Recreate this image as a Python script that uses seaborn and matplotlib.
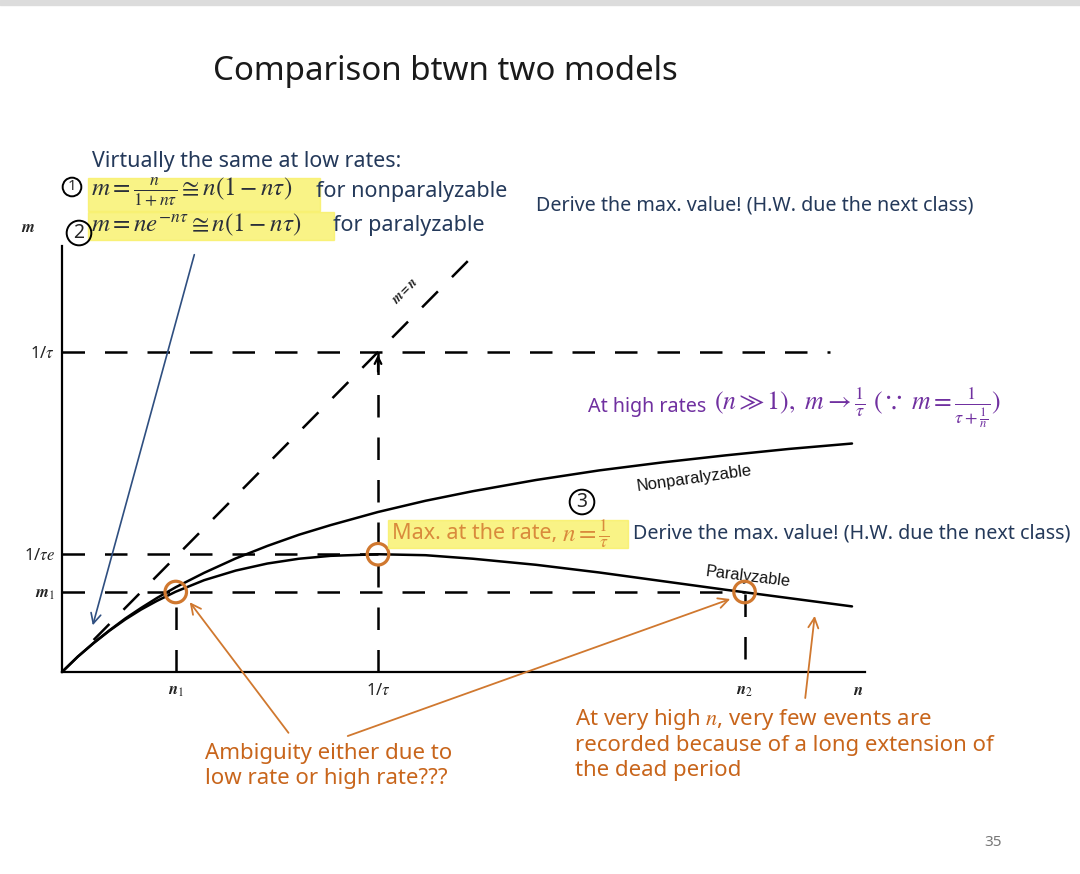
import matplotlib
matplotlib.use("Agg")
import matplotlib.pyplot as plt
import pandas as pd
import seaborn as sns
from matplotlib.patches import Rectangle

n_vals = [0, 0.05, 0.1, 0.15, 0.2, 0.25, 0.3, 0.36, 0.45, 0.55, 0.65, 0.75, 0.85, 1.0,
          1.15, 1.3, 1.5, 1.7, 1.9, 2.1, 2.3, 2.5]
m_nonpar = [0, 0.048, 0.091, 0.13, 0.167, 0.2, 0.231, 0.265, 0.31, 0.355, 0.394, 0.429, 0.459, 0.5,
            0.535, 0.565, 0.6, 0.63, 0.655, 0.677, 0.697, 0.714]
m_par = [0, 0.048, 0.09, 0.129, 0.164, 0.195, 0.222, 0.251, 0.287, 0.317, 0.339, 0.354, 0.363, 0.368,
         0.365, 0.354, 0.335, 0.311, 0.284, 0.257, 0.231, 0.205]

# special points on the axes
n1 = 0.36
n_tau = 1.0
n2 = 2.16
n_end = 2.52
m1 = 0.25
m_peak = 0.368
m_sat = 1.0

W, H = 1080, 874
ORANGE = "#d0782f"
NAVY = "#24395a"
PURPLE = "#7030a0"
YELLOW = "#f8ef5e"
TXT_ORANGE = "#c8651b"


def fx(px):
    return px / W


def fy(py):
    return 1 - py / H


sns.set_theme(style="white")
plt.rcParams["font.family"] = ["Noto Sans", "DejaVu Sans"]
plt.rcParams["mathtext.fontset"] = "stix"

fig = plt.figure(figsize=(10.8, 8.74), dpi=100)
ax = fig.add_axes([0, 0, 1, 1])
ax.set_xlim(-62 / 316, (W - 62) / 316)
ax.set_ylim(-(H - 672) / 320, 672 / 320)
ax.patch.set_alpha(0)

# axes lines through the origin
for s in ["top", "right"]:
    ax.spines[s].set_visible(False)
ax.spines["left"].set_position(("data", 0))
ax.spines["bottom"].set_position(("data", 0))
ax.spines["left"].set_bounds(0, 1.33)
ax.spines["bottom"].set_bounds(0, n_end + 0.02)
for s in ["left", "bottom"]:
    ax.spines[s].set_color("black")
    ax.spines[s].set_linewidth(1.6)

ax.set_yticks([m_sat, m_peak, m1])
ax.set_yticklabels(["1/$\\tau$", "1/$\\tau e$", r"$\mathbfit{m}_1$"])
ax.set_xticks([n1, n_tau, n2, n_end])
ax.set_xticklabels([r"$\mathbfit{n}_1$", "1/$\\tau$", r"$\mathbfit{n}_2$", r"$\mathbfit{n}$"])
ax.tick_params(axis="both", length=0, labelsize=12, colors="#222222")
ax.tick_params(axis="y", pad=5)
ax.tick_params(axis="x", pad=8)

# dashed guide lines
dash = dict(color="black", lw=1.8, linestyle=(0, (9, 8)))
ax.plot([0, 2.43], [m_sat, m_sat], **dash)
ax.plot([n_tau, n_tau], [0, m_sat], **dash)
ax.plot([0, n_tau], [m_peak, m_peak], **dash)
ax.plot([0, n2], [m1, m1], **dash)
ax.plot([n1, n1], [0, m1], **dash)
ax.plot([n2, n2], [0.04, m1], **dash)
ax.plot([0.1, 1.31], [0.1, 1.31], **dash)
ax.annotate("", xy=(n_tau, m_sat), xytext=(n_tau, 0.93),
            arrowprops=dict(arrowstyle="->", lw=1.6, color="black"))
ax.text(1.085, 1.19, r"$\mathbfit{m = n}$", rotation=45, ha="center", va="center", fontsize=10)

# the two model curves
curves = pd.DataFrame({"n": n_vals, "nonpar": m_nonpar, "par": m_par})
sns.lineplot(data=curves, x="n", y="nonpar", ax=ax, color="black", linewidth=1.8, sort=False)
sns.lineplot(data=curves, x="n", y="par", ax=ax, color="black", linewidth=1.8, sort=False)
ax.set_xlabel("")
ax.set_ylabel("")

ax.text(2.0, 0.606, "Nonparalyzable", rotation=8, ha="center", va="center",
        fontsize=12, family="Liberation Sans", color="#111111")
ax.text(2.17, 0.297, "Paralyzable", rotation=-7, ha="center", va="center",
        fontsize=11.7, family="Liberation Sans", color="#111111")

# orange circles at the points of interest
ax.scatter([n1, n_tau, n2], [m1, m_peak, m1], s=240, facecolors="none",
           edgecolors=ORANGE, linewidths=2.3, zorder=5)

# arrows
ax.annotate("", xy=(0.095, 0.1375), xytext=(0.421, 1.3125),
            arrowprops=dict(arrowstyle="->", lw=1.2, color="#2f4f80", mutation_scale=18))
orange_arrow = dict(arrowstyle="->", lw=1.3, color=ORANGE, mutation_scale=18)
ax.annotate("", xy=(0.399, 0.225), xytext=(0.722, -0.197), arrowprops=orange_arrow)
ax.annotate("", xy=(2.123, 0.231), xytext=(0.896, -0.203), arrowprops=orange_arrow)
ax.annotate("", xy=(2.383, 0.184), xytext=(2.351, -0.09), arrowprops=orange_arrow)

# top grey strip
fig.patches.append(Rectangle((0, fy(5)), 1, 5 / H, transform=fig.transFigure,
                             color="#dcdcdc", zorder=0))

# yellow highlights
for (x0, y0, x1, y1) in [(88, 178, 320, 211), (88, 212, 334, 240), (388, 520, 628, 548)]:
    fig.patches.append(Rectangle((fx(x0), fy(y1)), (x1 - x0) / W, (y1 - y0) / H,
                                 transform=fig.transFigure, color=YELLOW, alpha=0.75, zorder=0))

# slide texts
fig.text(fx(445), fy(72), "Comparison btwn two models", ha="center", va="center",
         fontsize=23.8, color="#1a1a1a")
fig.text(fx(92), fy(162), "Virtually the same at low rates:", va="center", fontsize=15.4, color=NAVY)
fig.text(fx(91), fy(192), r"$m=\frac{n}{1+n\tau}\cong n(1-n\tau)$", va="center", fontsize=18, color="#2a2f3a")
fig.text(fx(316), fy(191), "for nonparalyzable", va="center", fontsize=15.5, color=NAVY)
fig.text(fx(91), fy(225), r"$m=ne^{-n\tau}\cong n(1-n\tau)$", va="center", fontsize=18, color="#2a2f3a")
fig.text(fx(333), fy(225), "for paralyzable", va="center", fontsize=15.5, color=NAVY)
fig.text(fx(536), fy(205), "Derive the max. value! (H.W. due the next class)", va="center",
         fontsize=14.2, color=NAVY)
fig.text(fx(588), fy(407), "At high rates", va="center", fontsize=14.2, color=PURPLE)
fig.text(fx(714), fy(408),
         r"$(n \gg 1),\ m \rightarrow \frac{1}{\tau}\ (\because\ m=\frac{1}{\tau+\frac{1}{n}})$",
         va="center", fontsize=18.5, color=PURPLE)
fig.text(fx(392), fy(533), "Max. at the rate,", va="center", fontsize=15.5, color="#d98a3c")
fig.text(fx(562), fy(534), r"$n=\frac{1}{\tau}$", va="center", fontsize=18, color="#d98a3c")
fig.text(fx(633), fy(533), "Derive the max. value! (H.W. due the next class)", va="center",
         fontsize=14.2, color=NAVY)
fig.text(fx(205), fy(766), "Ambiguity either due to\nlow rate or high rate???", va="center",
         fontsize=16, color=TXT_ORANGE, linespacing=1.2)
fig.text(fx(575), fy(744),
         "At very high $n$, very few events are\nrecorded because of a long extension of\nthe dead period",
         va="center", fontsize=16, color=TXT_ORANGE, linespacing=1.2)
fig.text(fx(28), fy(228), r"$\mathbfit{m}$", ha="center", va="center", fontsize=12)
fig.text(fx(993), fy(842), "35", ha="center", va="center", fontsize=11, color="#777777")

# hand-drawn circled numbers
circ = dict(boxstyle="circle,pad=0.12", fc="none", ec="black", lw=1.4)
fig.text(fx(72), fy(187), "1", ha="center", va="center", fontsize=11, bbox=circ)
fig.text(fx(79), fy(233), "2", ha="center", va="center", fontsize=14, bbox=circ)
fig.text(fx(582), fy(502), "3", ha="center", va="center", fontsize=14, bbox=circ)

fig.savefig("out.png", dpi=100)
